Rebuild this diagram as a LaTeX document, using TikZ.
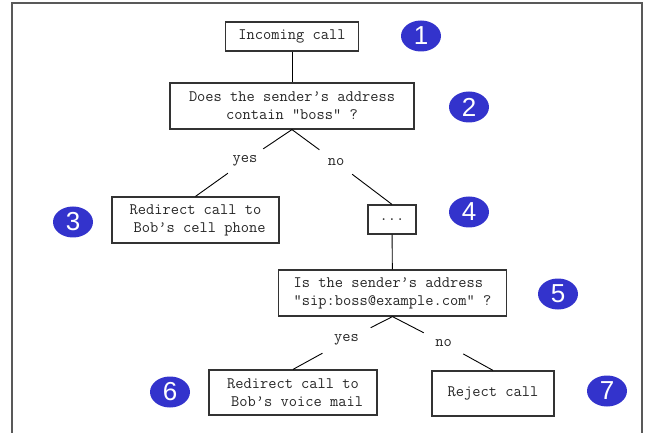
\documentclass[tikz,border=0pt]{standalone}
\usepackage{fontspec}
\usepackage{tikz}
\usetikzlibrary{positioning}
\usetikzlibrary{shapes.geometric}
\newfontfamily\numfont{Liberation Sans}
\definecolor{stepblue}{RGB}{51,51,204}

\begin{document}
\begin{tikzpicture}[
                x=1pt, y=-1pt,
                % Define styles for nodes
                frame/.style={draw=black!65, line width=1.4pt},
                box/.style={rectangle, draw=black!80, line width=1.2pt, inner sep=0pt, align=center, text=black!85, font=\ttfamily\fontsize{16}{18}\selectfont},
                lbl/.style={inner sep=0pt, minimum width=36pt, minimum height=24pt, text=black!85, font=\ttfamily\fontsize{16}{18}\selectfont},
                num/.style={ellipse, fill=stepblue, text=white, inner sep=0pt, minimum width=40pt, minimum height=31pt, font=\numfont\fontsize{26}{26}\selectfont},
                link/.style={draw=black, line width=0.9pt}
            ]
                \useasboundingbox (0,0) rectangle (654,433);
                \draw[frame] (12,433) -- (12,3) -- (642,3) -- (642,433);

                % Define nodes
                \node[box, minimum width=133pt, minimum height=29pt] (call) at (292,36.5) {Incoming call};
                \node[box, minimum width=244pt, minimum height=46pt] (q1) at (292,106) {Does the sender’s address\\contain "boss" ?};

                \node[lbl] (y1) at (245,161) {yes};
                \node[lbl] (o1) at (336,162) {no};

                \node[box, minimum width=167pt, minimum height=46pt] (cell) at (195.5,220) {Redirect call to\\\ Bob’s cell phone};
                \node[box, minimum width=48pt, minimum height=29pt] (dots) at (392,219.5) {...};

                \node[box, minimum width=228pt, minimum height=46pt, align=left] (q2) at (392.5,293) {Is the sender’s address\\"sip:boss@example.com" ?};

                \node[lbl, minimum width=48pt, minimum height=26pt] (y2) at (346.5,340) {yes};
                \node[lbl, minimum width=39pt, minimum height=26pt] (o2) at (443.5,343) {no};

                \node[box, minimum width=168pt, minimum height=45pt] (mail) at (293,392.5) {Redirect call to\\\ Bob’s voice mail};
                \node[box, minimum width=122pt, minimum height=45pt] (reject) at (493,393.5) {Reject call};

                % Step numbers
                \node[num] (n1) at (421,36) {1};
                \node[num] (n2) at (469,107) {2};
                \node[num] (n3) at (73,222) {3};
                \node[num] (n4) at (469,212) {4};
                \node[num] (n5) at (558,294) {5};
                \node[num] (n6) at (170,392) {6};
                \node[num] (n7) at (607,391) {7};

                % Draw connections
                \draw[link] (call) -- (q1);
                \draw[link] (q1.south) -- (y1) -- (cell.north);
                \draw[link] (q1.south) -- (o1) -- (dots.north);
                \draw[link] (dots) -- (q2);
                \draw[link] (q2.south) -- (y2) -- (mail.north);
                \draw[link] (q2.south) -- (o2) -- (reject.north);
            \end{tikzpicture}
\end{document}
